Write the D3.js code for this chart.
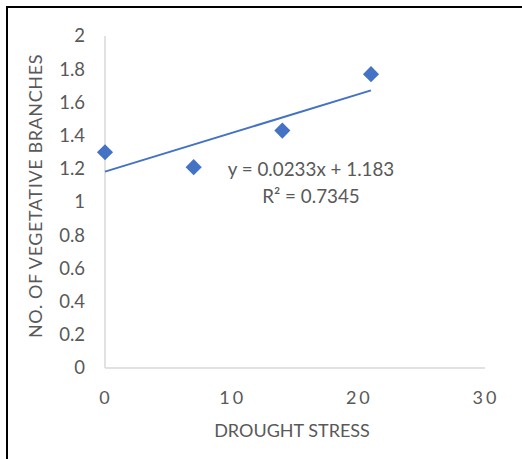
<!DOCTYPE html>
<html>
<head>
<meta charset="utf-8">
<script src="https://cdn.jsdelivr.net/npm/d3@7"></script>
<style>
  html, body { margin: 0; padding: 0; background: #fff; }
  svg { display: block; }
  text { font-family: Lato, "Liberation Sans", sans-serif; fill: #595959; }
</style>
</head>
<body>
<svg id="chart" width="522" height="459"></svg>
<script>
// Drought stress level vs. number of vegetative branches
const droughtStress = [0, 7, 14, 21];
const branches = [1.3, 1.21, 1.43, 1.77];
const xTicks = [0, 10, 20, 30];
const yTicks = [0, 0.2, 0.4, 0.6, 0.8, 1, 1.2, 1.4, 1.6, 1.8, 2];
const trendSlope = 0.0233;
const trendIntercept = 1.183;
const trendR2 = 0.7345;

const svg = d3.select("#chart");
const color = "#4472C4";

// Frame (left and top edges)
svg.append("path")
  .attr("d", "M7,459 V7 H522")
  .attr("fill", "none")
  .attr("stroke", "#000")
  .attr("stroke-width", 2);

const x = d3.scaleLinear().domain([0, 30]).range([105, 485]);
const y = d3.scaleLinear().domain([0, 2]).range([368, 36]);

// Axis lines
svg.append("line")
  .attr("x1", x(0)).attr("x2", x(0))
  .attr("y1", y(0)).attr("y2", y(2))
  .attr("stroke", "#d9d9d9").attr("stroke-width", 1.5);
svg.append("line")
  .attr("x1", x(0)).attr("x2", x(30))
  .attr("y1", y(0)).attr("y2", y(0))
  .attr("stroke", "#d9d9d9").attr("stroke-width", 1.5);

// Y tick labels
svg.append("g").selectAll("text")
  .data(yTicks).join("text")
  .attr("x", 85)
  .attr("y", d => y(d))
  .attr("dy", "0.35em")
  .attr("text-anchor", "end")
  .attr("font-size", 18.5)
  .text(d => d3.format("")(d));

// X tick labels (spaced digits)
svg.append("g").selectAll("text")
  .data(xTicks).join("text")
  .attr("x", d => x(d) + 1)
  .attr("y", 404)
  .attr("text-anchor", "middle")
  .attr("font-size", 18)
  .attr("letter-spacing", 3)
  .text(d => String(d));

// Axis titles
svg.append("text")
  .attr("x", 292).attr("y", 437)
  .attr("text-anchor", "middle")
  .attr("font-size", 18)
  .text("DROUGHT STRESS");
svg.append("text")
  .attr("transform", "translate(42,196) rotate(-90)")
  .attr("text-anchor", "middle")
  .attr("font-size", 18)
  .attr("letter-spacing", 0.6)
  .text("NO. OF VEGETATIVE BRANCHES");

// Linear trendline over the data range
const xMin = d3.min(droughtStress), xMax = d3.max(droughtStress);
svg.append("line")
  .attr("x1", x(xMin)).attr("y1", y(trendIntercept + trendSlope * xMin))
  .attr("x2", x(xMax)).attr("y2", y(trendIntercept + trendSlope * xMax))
  .attr("stroke", color).attr("stroke-width", 2);

// Diamond markers
const diamond = d3.symbol().type(d3.symbolSquare).size(130);
svg.append("g").selectAll("path")
  .data(droughtStress.map((d, i) => [d, branches[i]])).join("path")
  .attr("d", diamond)
  .attr("transform", d => `translate(${x(d[0])},${y(d[1])}) rotate(45)`)
  .attr("fill", color);

// Trendline equation
const eq = svg.append("text")
  .attr("text-anchor", "middle")
  .attr("font-size", 18.8);
eq.append("tspan").attr("x", 311).attr("y", 176)
  .text(`y = ${trendSlope}x + ${trendIntercept}`);
eq.append("tspan").attr("x", 311).attr("y", 203)
  .text(`R² = ${trendR2}`);
</script>
</body>
</html>
